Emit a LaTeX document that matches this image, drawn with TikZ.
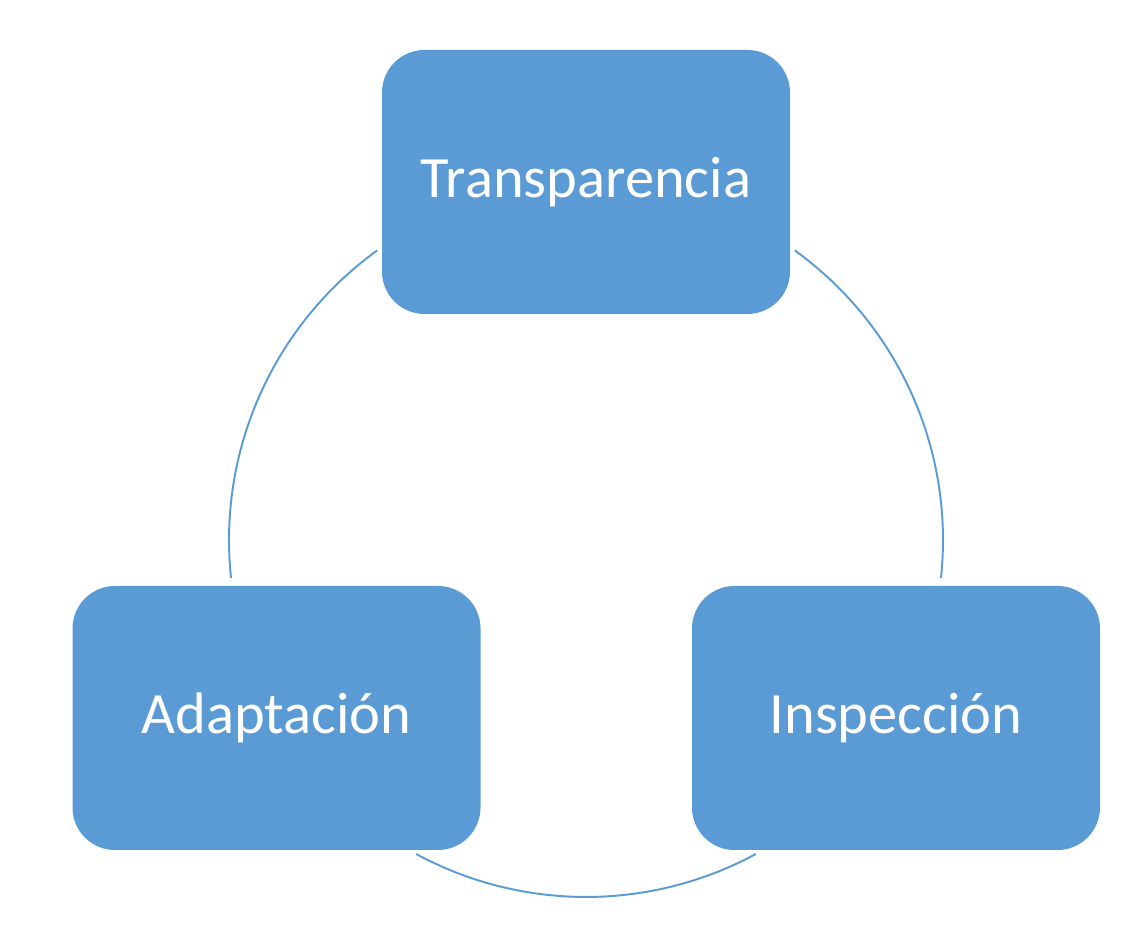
\documentclass[tikz,border=0pt]{standalone}
\usepackage{fontspec}
\setmainfont{Carlito}
\usepackage{xcolor}
\usetikzlibrary{positioning, calc}

\definecolor{officeblue}{HTML}{5B9BD5}

\begin{document}
\begin{tikzpicture}[
    phase/.style={rectangle, fill=officeblue, rounded corners=0.85cm, minimum height=5.28cm, minimum width=8.16cm, align=center, text=white, font=\fontsize{33.3}{40}\selectfont},
    cycle/.style={draw=officeblue, line width=1.1pt}
]
\useasboundingbox (0,0) rectangle (22.88,18.62);

\coordinate (hub) at (11.72, 7.82);

\node[phase] (transparencia) at (11.72, 14.98) {Transparencia};
\node[phase] (adaptacion) at (5.53, 4.26) {Adaptación};
\node[phase] (inspeccion) at (17.92, 4.26) {Inspección};

% arcs of the cycle between the boxes
\foreach \from/\to in {125.8/186.1, 241.6/298.4, -6.1/54.2}
    \draw[cycle] ($(hub)+(\from:7.14)$) arc[start angle=\from, end angle=\to, radius=7.14];

\end{tikzpicture}
\end{document}
